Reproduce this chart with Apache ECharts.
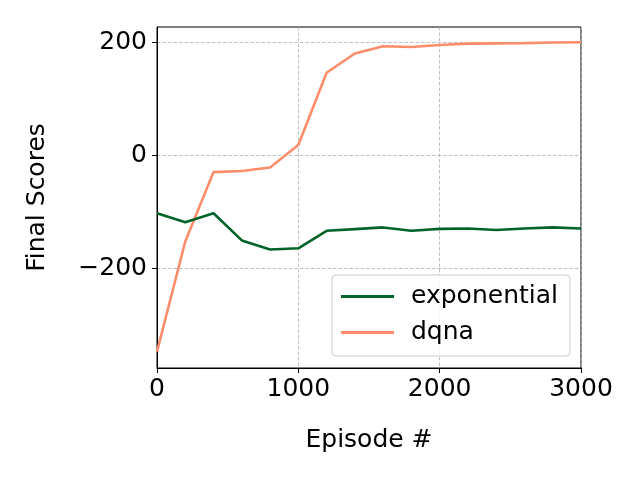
<!DOCTYPE html>
<html>
<head>
<meta charset="utf-8">
<script src="https://cdn.jsdelivr.net/npm/echarts@6/dist/echarts.min.js"></script>
<style>html,body{margin:0;padding:0;background:#fff}#c{width:640px;height:480px}</style>
</head>
<body>
<div id="c"></div>
<script>
const episodes = [0,200,400,600,800,1000,1200,1400,1600,1800,2000,2200,2400,2600,2800,3000];
const exponential = [-103,-119,-103,-151,-167,-165,-134,-131,-128,-134,-130.5,-130,-132.5,-130,-128,-130];
const dqna = [-348,-153,-30,-28,-22,18,146,180,193,191.5,195,197.5,198,198.5,199.5,200];
const yTicks = [-200,0,200];
const xTicks = [0,1000,2000,3000];

const FONT = 'DejaVu Sans';
const FS = 25;
const chart = echarts.init(document.getElementById('c'), null, {renderer:'canvas'});
const zip = (xs, ys) => xs.map((x,i)=>[x, ys[i]]);
chart.setOption({
  animation:false,
  backgroundColor:'#fff',
  textStyle:{fontFamily:FONT},
  grid:{left:157, right:59, top:27, bottom:112, show:true, borderColor:'#000', borderWidth:1},
  xAxis:{
    type:'value', min:0, max:3000, interval:1000,
    name:'Episode #', nameLocation:'middle', nameGap:60,
    nameTextStyle:{fontFamily:FONT, fontSize:FS, color:'#000'},
    axisLine:{show:true, onZero:false, lineStyle:{color:'#000', width:1}},
    axisTick:{show:true, length:5, lineStyle:{color:'#000'}, customValues:xTicks},
    axisLabel:{fontFamily:FONT, fontSize:FS, color:'#000', margin:9, customValues:xTicks,
      formatter:v=>String(v)},
    splitLine:{show:true, lineStyle:{color:'#b0b0b0', type:[3.5,2], width:0.8}}
  },
  yAxis:{
    type:'value', min:-377, max:227,
    name:'Final Scores', nameLocation:'middle', nameGap:107,
    nameTextStyle:{fontFamily:FONT, fontSize:FS, color:'#000'},
    axisLine:{show:true, onZero:false, lineStyle:{color:'#000', width:1}},
    axisTick:{show:true, length:5, lineStyle:{color:'#000'}, customValues:yTicks},
    axisLabel:{fontFamily:FONT, fontSize:FS, color:'#000', margin:10, customValues:yTicks,
      formatter:v=> v<0 ? '\u2212'+Math.abs(v) : String(v)},
    splitLine:{show:true, lineStyle:{color:'#b0b0b0', type:[3.5,2], width:0.8}}
  },
  legend:{
    orient:'vertical', left:332, top:275,
    padding:[9,12,11,9], itemGap:11,
    icon:'rect', itemWidth:53, itemHeight:3,
    backgroundColor:'rgba(255,255,255,0.8)',
    borderColor:'#cccccc', borderWidth:1, borderRadius:4,
    textStyle:{fontFamily:FONT, fontSize:FS, color:'#000', padding:[0,0,0,12]},
    data:['exponential','dqna']
  },
  series:[
    {name:'exponential', type:'line', data:zip(episodes, exponential), symbol:'none',
     lineStyle:{color:'#006428', width:2.6}, itemStyle:{color:'#006428'}, z:3},
    {name:'dqna', type:'line', data:zip(episodes, dqna), symbol:'none',
     lineStyle:{color:'#fc8d6a', width:2.6}, itemStyle:{color:'#fc8d6a'}, z:2}
  ]
});
</script>
</body>
</html>
